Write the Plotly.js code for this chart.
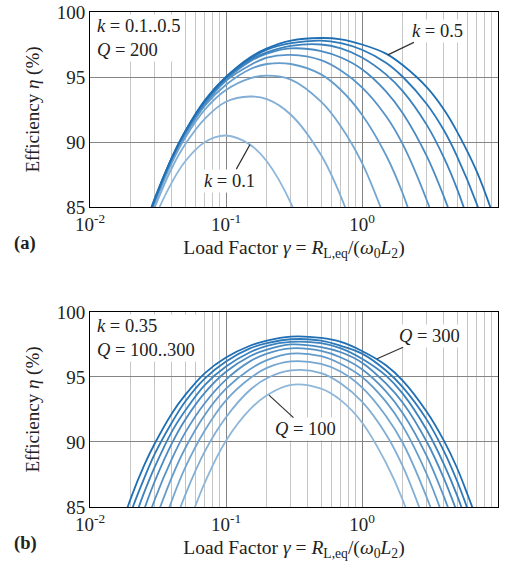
<!DOCTYPE html>
<html>
<head>
<meta charset="utf-8">
<script src="https://cdn.plot.ly/plotly-3.0.1.min.js"></script>
<style>html,body{margin:0;padding:0;background:#fff;}#chart{width:508px;height:561px;}</style>
</head>
<body>
<div id="chart"></div>
<script>
// ---- data ----
// panel (a): Q = 200, k = 0.1 .. 0.5
const kValues = [0.10, 0.15, 0.20, 0.25, 0.30, 0.35, 0.40, 0.45, 0.50];
const gammaA = [0.025, 0.03, 0.04, 0.05, 0.07, 0.1, 0.15, 0.2, 0.3, 0.5, 0.7, 1, 1.5, 2, 3, 4, 5, 7, 10];
const effK010 = [82.1, 84.2, 86.9, 88.5, 90.0, 90.5, 89.8, 88.5, 85.3, 79.1, null, null, null, null, null, null, null, null, null];
const effK015 = [82.8, 85.0, 88.0, 89.8, 91.8, 93.1, 93.5, 93.3, 92.1, 89.0, 85.8, 81.3, null, null, null, null, null, null, null];
const effK020 = [83.0, 85.3, 88.4, 90.3, 92.5, 94.0, 94.9, 95.1, 94.8, 93.1, 91.2, 88.4, 83.9, null, null, null, null, null, null];
const effK025 = [83.1, 85.5, 88.6, 90.5, 92.8, 94.4, 95.6, 96.0, 96.0, 95.2, 94.0, 92.1, 89.0, 86.0, 80.5, null, null, null, null];
const effK030 = [83.2, 85.5, 88.7, 90.6, 92.9, 94.7, 95.9, 96.5, 96.7, 96.3, 95.5, 94.2, 92.0, 89.8, 85.5, 81.7, null, null, null];
const effK035 = [83.2, 85.6, 88.7, 90.7, 93.0, 94.8, 96.2, 96.8, 97.2, 97.0, 96.5, 95.6, 93.9, 92.2, 88.9, 85.8, 83.0, null, null];
const effK040 = [83.3, 85.6, 88.8, 90.8, 93.1, 94.9, 96.3, 96.9, 97.4, 97.5, 97.2, 96.5, 95.2, 93.9, 91.3, 88.8, 86.4, 82.0, null];
const effK045 = [83.3, 85.6, 88.8, 90.8, 93.2, 95.0, 96.4, 97.1, 97.6, 97.8, 97.6, 97.1, 96.1, 95.0, 92.9, 90.9, 88.9, 85.2, 80.2];
const effK050 = [83.3, 85.7, 88.8, 90.8, 93.2, 95.0, 96.5, 97.2, 97.8, 98.0, 97.9, 97.5, 96.8, 95.9, 94.2, 92.5, 90.8, 87.7, 83.3];

// panel (b): k = 0.35, Q = 100 .. 300
const qValues = [100, 125, 150, 175, 200, 225, 250, 275, 300];
const gammaB = [0.015, 0.02, 0.025, 0.03, 0.04, 0.05, 0.07, 0.1, 0.15, 0.2, 0.3, 0.5, 0.7, 1, 1.5, 2, 3, 4, 5, 6, 7];
const effQ100 = [null, null, null, null, 79.7, 82.9, 86.9, 90.1, 92.5, 93.6, 94.4, 94.1, 93.2, 91.5, 88.4, 85.5, 80.0, null, null, null, null];
const effQ125 = [null, null, null, 78.8, 83.1, 85.9, 89.3, 91.9, 94.0, 94.9, 95.5, 95.3, 94.5, 93.1, 90.6, 88.1, 83.4, null, null, null, null];
const effQ150 = [null, null, null, 81.7, 85.5, 88.0, 90.9, 93.2, 94.9, 95.7, 96.2, 96.0, 95.4, 94.2, 92.0, 89.9, 85.7, 82.0, null, null, null];
const effQ175 = [null, null, null, 83.9, 87.3, 89.5, 92.1, 94.1, 95.6, 96.3, 96.8, 96.6, 96.0, 95.0, 93.1, 91.2, 87.5, 84.1, null, null, null];
const effQ200 = [null, null, 83.2, 85.6, 88.7, 90.7, 93.0, 94.8, 96.2, 96.8, 97.2, 97.0, 96.5, 95.6, 93.9, 92.2, 88.9, 85.8, 83.0, null, null];
const effQ225 = [null, 81.7, 84.8, 87.0, 89.9, 91.7, 93.8, 95.4, 96.6, 97.1, 97.5, 97.3, 96.9, 96.1, 94.5, 93.0, 90.0, 87.2, 84.6, null, null];
const effQ250 = [null, 83.3, 86.1, 88.1, 90.8, 92.4, 94.4, 95.8, 96.9, 97.4, 97.7, 97.6, 97.2, 96.4, 95.1, 93.7, 90.9, 88.3, 85.9, 83.6, null];
const effQ275 = [80.4, 84.6, 87.2, 89.1, 91.5, 93.1, 94.9, 96.2, 97.2, 97.6, 97.9, 97.8, 97.4, 96.8, 95.5, 94.2, 91.7, 89.3, 87.0, 84.8, null];
const effQ300 = [81.8, 85.7, 88.2, 89.9, 92.2, 93.6, 95.3, 96.5, 97.4, 97.8, 98.1, 98.0, 97.7, 97.0, 95.9, 94.7, 92.3, 90.1, 88.0, 85.9, 84.0];

const xTickVals = [0.01, 0.1, 1, 10];
const xTickText = ['10<sup>-2</sup>', '10<sup>-1</sup>', '10<sup>0</sup>', '10<sup>1</sup>'];
const xMinorVals = [0.02,0.03,0.04,0.05,0.06,0.07,0.08,0.09,0.2,0.3,0.4,0.5,0.6,0.7,0.8,0.9,2,3,4,5,6,7,8,9];
const yTickVals = [85, 90, 95, 100];

// ---- styling ----
const shades = ['rgb(143,183,218)','rgb(130,174,213)','rgb(116,166,208)','rgb(100,156,203)','rgb(87,147,199)',
                'rgb(74,138,194)','rgb(60,130,190)','rgb(44,120,185)','rgb(31,111,180)'];
const FONT = 'Liberation Serif, Times New Roman, serif';

const seriesA = [effK010, effK015, effK020, effK025, effK030, effK035, effK040, effK045, effK050];
const seriesB = [effQ100, effQ125, effQ150, effQ175, effQ200, effQ225, effQ250, effQ275, effQ300];

const traces = [];
seriesA.forEach((ys, i) => traces.push({
  x: gammaA, y: ys, xaxis: 'x', yaxis: 'y', mode: 'lines', name: 'k=' + kValues[i],
  line: {shape: 'spline', smoothing: 1, color: shades[i], width: 1.8}, hoverinfo: 'skip', showlegend: false
}));
seriesB.forEach((ys, i) => traces.push({
  x: gammaB, y: ys, xaxis: 'x2', yaxis: 'y2', mode: 'lines', name: 'Q=' + qValues[i],
  line: {shape: 'spline', smoothing: 1, color: shades[i], width: 1.8}, hoverinfo: 'skip', showlegend: false
}));

const xTitle = 'Load Factor <i>γ</i> = <i>R</i><sub>L,eq</sub>/(<i>ω</i><sub>0</sub><i>L</i><sub>2</sub>)';
const yTitle = 'Efficiency <i>η</i> (%)';

function xAxis(anchor) {
  return {
    type: 'log', range: [-2, 1], anchor: anchor,
    tickmode: 'array', tickvals: xTickVals, ticktext: xTickText,
    showgrid: true, gridcolor: '#858585', gridwidth: 1,
    minor: {tickmode: 'array', tickvals: xMinorVals, showgrid: true, gridcolor: '#c6c6c6', gridwidth: 1, ticks: ''},
    showline: true, mirror: true, linecolor: '#000', linewidth: 1,
    zeroline: false, ticks: '',
    tickfont: {family: FONT, size: 19, color: '#222'},
    title: {text: xTitle, font: {family: FONT, size: 19.5, color: '#222'}, standoff: 6}
  };
}
function yAxis(anchor, domain) {
  return {
    range: [85, 100], domain: domain, anchor: anchor,
    tickmode: 'array', tickvals: yTickVals,
    showgrid: true, gridcolor: '#858585', gridwidth: 1,
    showline: true, mirror: true, linecolor: '#000', linewidth: 1,
    zeroline: false, ticks: '',
    tickfont: {family: FONT, size: 19, color: '#222'},
    title: {text: yTitle, font: {family: FONT, size: 19, color: '#222'}, standoff: 12}
  };
}

const annFont = {family: FONT, size: 18.5, color: '#222'};
const layout = {
  width: 508, height: 561,
  margin: {l: 90, r: 10, t: 12, b: 54},
  paper_bgcolor: '#fff', plot_bgcolor: '#fff',
  font: {family: FONT, size: 18, color: '#222'},
  xaxis: xAxis('y'),
  yaxis: yAxis('x', [0.606, 1]),
  xaxis2: xAxis('y2'),
  yaxis2: yAxis('x2', [0, 0.394]),
  annotations: [
    {xref: 'paper', yref: 'paper', x: 0.012, y: 0.995, xanchor: 'left', yanchor: 'top', align: 'left',
     text: '<i>k</i> = 0.1..0.5<br><i>Q</i> = 200', showarrow: false, bgcolor: '#fff', font: annFont},
    {xref: 'x', yref: 'y', x: 0.19, y: 96.7, ax: 50, ay: -24, text: '<i>k</i> = 0.5',
     showarrow: true, arrowhead: 0, arrowwidth: 1.2, arrowcolor: '#333', bgcolor: '#fff', font: annFont},
    {xref: 'x', yref: 'y', x: -0.824, y: 89.8, ax: -20, ay: 36, text: '<i>k</i> = 0.1',
     showarrow: true, arrowhead: 0, arrowwidth: 1.2, arrowcolor: '#333', bgcolor: '#fff', font: annFont},
    {xref: 'paper', yref: 'paper', x: 0.012, y: 0.389, xanchor: 'left', yanchor: 'top', align: 'left',
     text: '<i>k</i> = 0.35<br><i>Q</i> = 100..300', showarrow: false, bgcolor: '#fff', font: annFont},
    {xref: 'x2', yref: 'y2', x: 0.111, y: 96.4, ax: 52, ay: -23, text: '<i>Q</i> = 300',
     showarrow: true, arrowhead: 0, arrowwidth: 1.2, arrowcolor: '#333', bgcolor: '#fff', font: annFont},
    {xref: 'x2', yref: 'y2', x: -0.684, y: 93.6, ax: 37, ay: 34, text: '<i>Q</i> = 100',
     showarrow: true, arrowhead: 0, arrowwidth: 1.2, arrowcolor: '#333', bgcolor: '#fff', font: annFont},
    {xref: 'paper', yref: 'paper', x: -0.159, y: 0.533, xanchor: 'center', yanchor: 'middle',
     text: '<b>(a)</b>', showarrow: false, font: annFont},
    {xref: 'paper', yref: 'paper', x: -0.159, y: -0.073, xanchor: 'center', yanchor: 'middle',
     text: '<b>(b)</b>', showarrow: false, font: annFont}
  ]
};

Plotly.newPlot('chart', traces, layout, {displayModeBar: false, staticPlot: true});
</script>
</body>
</html>
